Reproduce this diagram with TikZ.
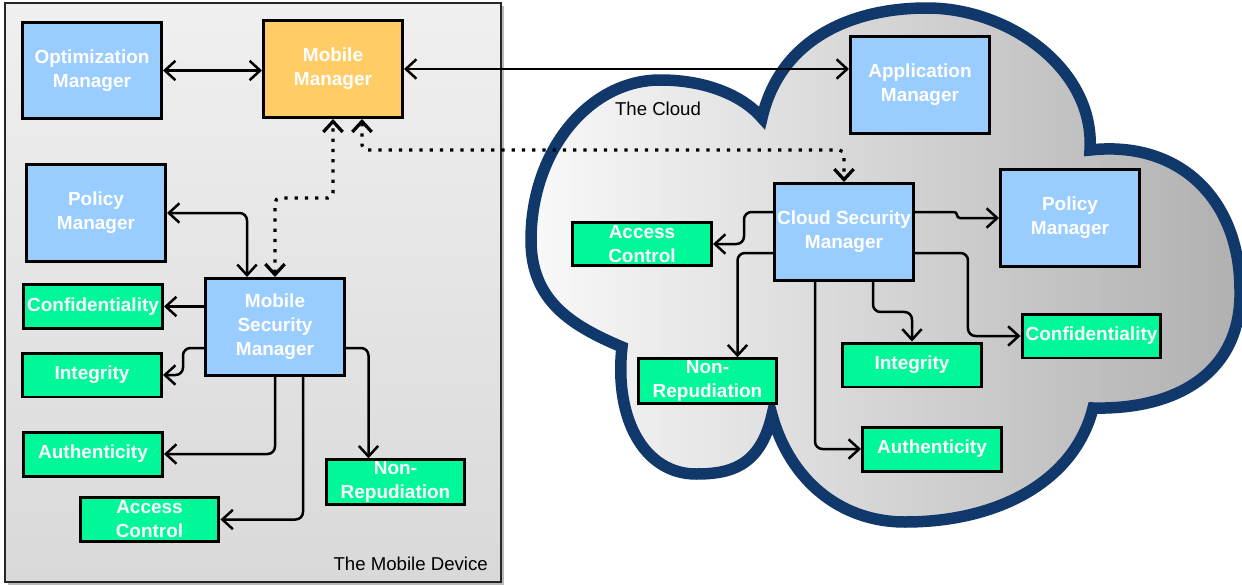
\documentclass[tikz,border=0pt]{standalone}
\usepackage{fontspec}
\setmainfont{Liberation Sans}
\usetikzlibrary{arrows.meta,calc}

\definecolor{mgrblue}{RGB}{153,204,255}
\definecolor{mgrorange}{RGB}{255,204,102}
\definecolor{secgreen}{RGB}{0,248,152}
\definecolor{cloudnavy}{RGB}{17,56,107}

\begin{document}
\begin{tikzpicture}[>={Straight Barb[length=6pt,width=11pt]},x=0.02cm,y=-0.02cm]
  \tikzstyle{box}=[draw,line width=0.06cm,minimum width=2.78cm,inner sep=1pt,align=center,text=white,font=\fontsize{10.8}{13.6}\selectfont\bfseries]
  \tikzstyle{mgr}=[box,fill=mgrblue,minimum height=1.94cm]
  \tikzstyle{sec}=[box,fill=secgreen,minimum height=0.88cm]
  \tikzstyle{link}=[->,line width=0.05cm,rounded corners=0.15cm]
  \tikzstyle{dots}=[<->,line width=0.065cm,dash pattern=on 0.065cm off 0.14cm,rounded corners=0.1cm]
  \useasboundingbox (0,0) rectangle (1242,585);

  % mobile device panel
  \fill[gray!55] (8,6) rectangle (504,585);
  \draw[line width=0.045cm,draw=gray!30!black,top color=gray!12,bottom color=gray!30] (5,3) rectangle (501,582);

  % cloud outline
  \draw[line width=0.23cm,draw=cloudnavy,left color=gray!5,right color=gray!62]
    (622,347) .. controls (570,325) and (531,300) .. (531,240)
    .. controls (531,150) and (590,80) .. (660,80)
    .. controls (710,80) and (745,98) .. (762,118)
    .. controls (780,40) and (850,8) .. (927,8)
    .. controls (1010,8) and (1095,70) .. (1090,150)
    .. controls (1180,140) and (1240,200) .. (1240,290)
    .. controls (1242,370) and (1180,410) .. (1093,408)
    .. controls (1075,480) and (1000,522) .. (905,522)
    .. controls (840,522) and (790,480) .. (772,415)
    .. controls (760,468) and (728,474) .. (696,474)
    .. controls (645,474) and (614,420) .. (622,347) -- cycle;

  % mobile side
  \node[mgr] (opt) at (92,70.5) {Optimization\\Manager};
  \node[mgr,fill=mgrorange] (mm) at (333,69) {Mobile\\Manager};
  \node[mgr] (pmL) at (96,213) {Policy\\Manager};
  \node[mgr] (msm) at (275,327) {Mobile\\Security\\Manager};
  \node[sec] (confL) at (93,306.5) {Confidentiality};
  \node[sec] (integL) at (92,375) {Integrity};
  \node[sec] (authL) at (93,454) {Authenticity};
  \node[sec] (accL) at (149.5,519.5) {Access\\Control};
  \node[sec] (nrL) at (395.5,482) {Non-\\Repudiation};
  \node[anchor=east,font=\fontsize{10.6}{12}\selectfont] (devlbl) at (494,564) {The Mobile Device};

  % cloud side
  \node[mgr] (app) at (920,85) {Application\\Manager};
  \node[mgr] (csm) at (844,232) {Cloud Security\\Manager};
  \node[mgr] (pmC) at (1070,218) {Policy\\Manager};
  \node[sec] (accC) at (642,244) {Access\\Control};
  \node[sec] (nrC) at (707.5,381) {Non-\\Repudiation};
  \node[sec] (integC) at (912,365) {Integrity};
  \node[sec] (confC) at (1091.5,336) {Confidentiality};
  \node[sec] (authC) at (932,449) {Authenticity};
  \node[font=\fontsize{10.6}{12}\selectfont] (cloudlbl) at (658,109) {The Cloud};

  % managers
  \draw[<->,line width=0.05cm] (opt.east) -- (opt.east -| mm.west);
  \draw[<->,line width=0.05cm] (mm.east) -- (mm.east -| app.west);
  \draw[link,<->] (pmL.east) -| ($(msm.north)+(-28,0)$);
  \draw[dots] (msm.north) -- ++(0,-79) -| (mm.south);
  \draw[dots] ($(mm.south)+(29,0)$) -- ++(0,31) -| (csm.north);

  % mobile security manager
  \draw[link] (msm.west |- confL) -- (confL.east);
  \draw[link] ($(msm.west)+(0,21)$) -- ++(-21,0) |- (integL.east);
  \draw[link] (msm.south) |- (authL.east);
  \draw[link] ($(msm.south)+(28,0)$) |- (accL.east);
  \draw[link] ($(msm.east)+(0,21)$) -| ($(nrL.north)+(-27,0)$);

  % cloud security manager
  \draw[link,rounded corners=0.06cm] ($(csm.east)+(0,-20)$) -- ++(42,0) |- (pmC.west);
  \draw[link] ($(csm.west)+(0,-20)$) -- ++(-29,0) |- (accC.east);
  \draw[link] ($(csm.west)+(0,21)$) -| ($(nrC.north)+(30,0)$);
  \draw[link] ($(csm.south)+(-29,0)$) |- (authC.west);
  \draw[link] ($(csm.south)+(29,0)$) -- ++(0,30) -| (integC.north);
  \draw[link] ($(csm.east)+(0,21)$) -- ++(53,0) |- (confC.west);
\end{tikzpicture}
\end{document}
